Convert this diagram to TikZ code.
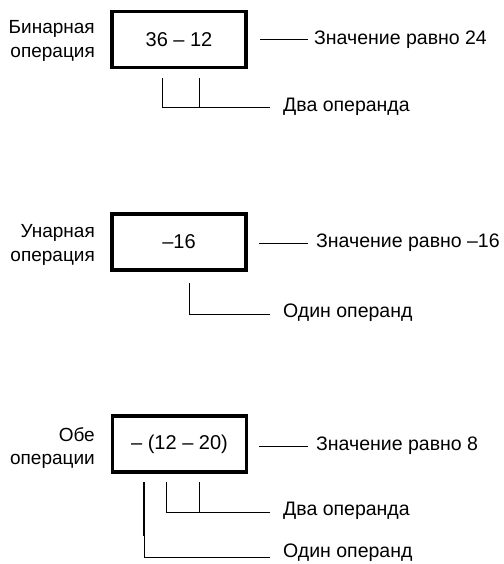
\documentclass[tikz,border=0pt]{standalone}
\usepackage{fontspec}
\setmainfont{Liberation Sans}
\begin{document}
\begin{tikzpicture}[x=1pt,y=-1pt,
  exprbox/.style={draw,line width=3.2pt,minimum width=134pt,minimum height=56pt,inner sep=0pt,font=\fontsize{20}{22}\selectfont},
  lbl/.style={anchor=west,inner sep=0pt,font=\fontsize{19.5}{21}\selectfont},
  side/.style={anchor=east,align=right,inner sep=0pt,font=\fontsize{19}{23.5}\selectfont},
  thin/.style={line width=1pt},
  thick1/.style={line width=1.8pt}]
\useasboundingbox (0,0) rectangle (503,564);
% Block 1
\node[exprbox] (b1) at (179,39.5) {36 – 12};
\node[side] (s1) at (95,41) {Бинарная\\операция};
\coordinate (v1a) at (260,40);
\coordinate (v1b) at (308,40);
\node[lbl] (val1) at (314,40) {Значение равно 24};
\draw[thin] (v1a) -- (v1b);
\node[lbl] (op1) at (283,107) {Два операнда};
\coordinate (t1a) at (162,78);
\coordinate (t1b) at (199,78);
\coordinate (j1) at (199,108);
\draw[thin] (t1a) -- (162,108) -- (270,108);
\draw[thin] (t1b) -- (j1);
% Block 2
\node[exprbox] (b2) at (179,242) {–16};
\node[side] (s2) at (95,245) {Унарная\\операция};
\coordinate (v2a) at (259,243);
\coordinate (v2b) at (308,243);
\node[lbl] (val2) at (316,243) {Значение равно –16};
\draw[thin] (v2a) -- (v2b);
\node[lbl] (op2) at (283,313) {Один операнд};
\coordinate (t2a) at (189,283);
\draw[thin] (t2a) -- (189,314) -- (270,314);
% Block 3
\node[exprbox] (b3) at (179.5,444) {– (12 – 20)};
\node[side] (s3) at (95,448) {Обе\\операции};
\coordinate (v3a) at (259,446);
\coordinate (v3b) at (308,446);
\node[lbl] (val3) at (316,446) {Значение равно 8};
\draw[thin] (v3a) -- (v3b);
\node[lbl] (op3a) at (283,511) {Два операнда};
\node[lbl] (op3b) at (283,553) {Один операнд};
\coordinate (t3a) at (144,482);
\coordinate (t3b) at (166,482);
\coordinate (t3c) at (199,482);
\draw[thick1] (t3a) -- (144,536);
\draw[thin] (144,536) -- (144,557) -- (270,557);
\draw[thin] (t3b) -- (166,512) -- (270,512);
\draw[thin] (t3c) -- (199,512);
\end{tikzpicture}
\end{document}
